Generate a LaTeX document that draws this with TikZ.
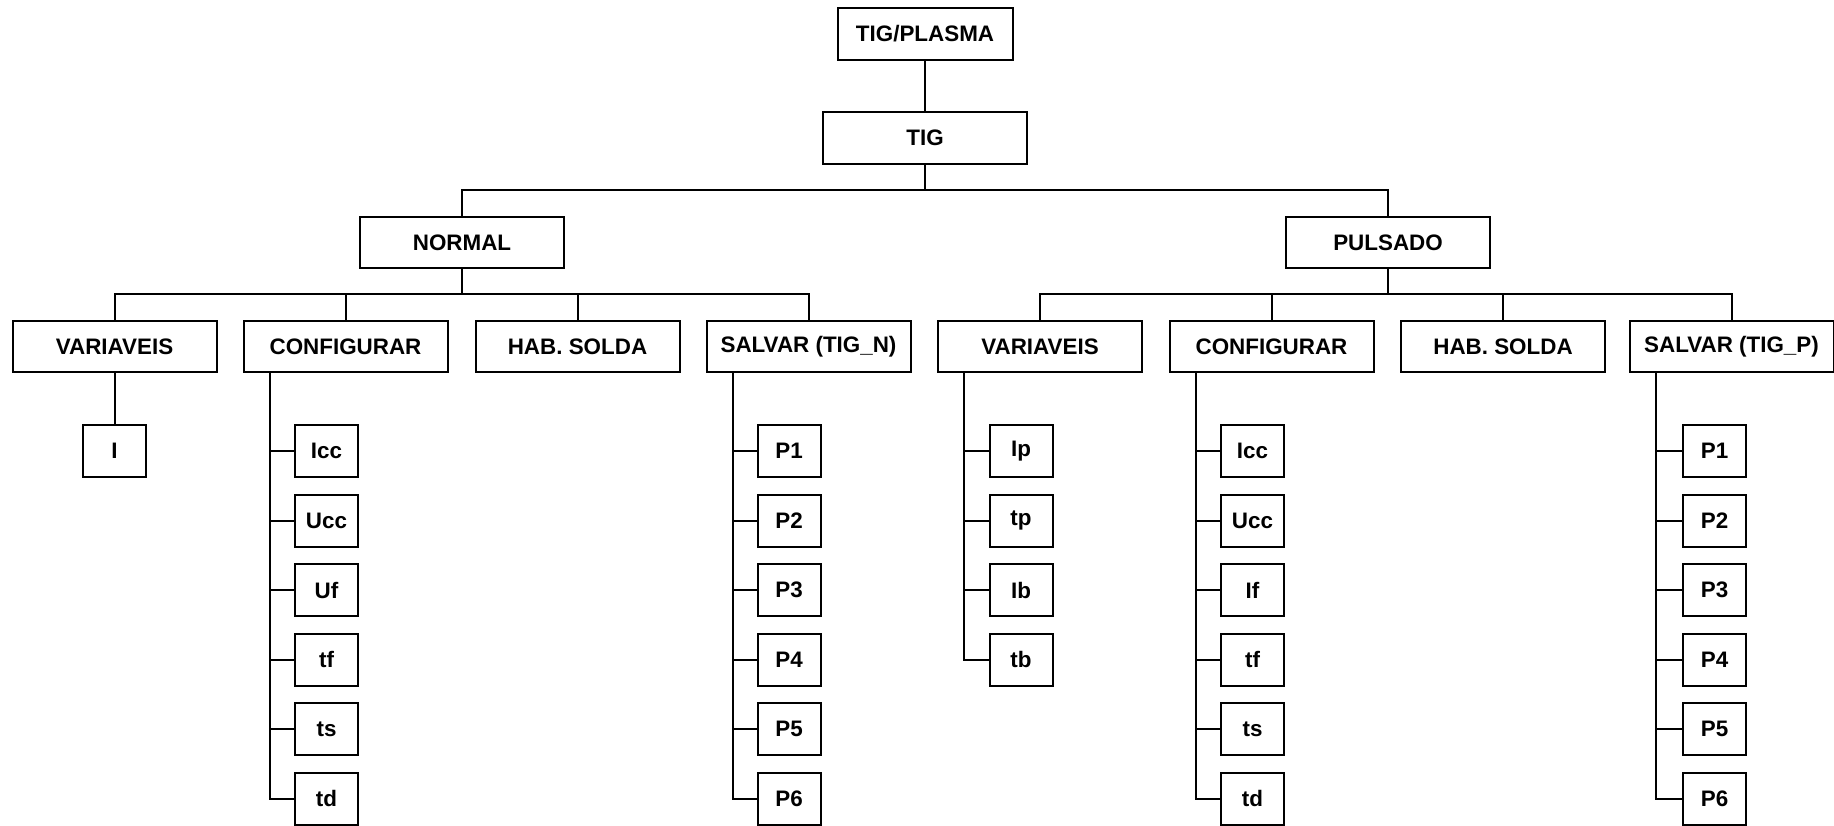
\documentclass[tikz,border=0pt]{standalone}
\usepackage{fontspec}
\setmainfont{Liberation Sans}
\begin{document}
\begin{tikzpicture}[x=0.5pt,y=-0.5pt,
  box/.style={draw,line width=1pt,inner sep=0pt,outer sep=0pt,minimum width=102pt,minimum height=25.5pt,font=\fontsize{11.2}{13}\selectfont\bfseries},
  leaf/.style={box,minimum width=31.5pt,minimum height=26pt},
  conn/.style={line width=1pt}]
\fill[white] (0,0) rectangle (1834,825);
\useasboundingbox (0,0) rectangle (1834,825);
% top
\node[box,minimum width=87.5pt,minimum height=26pt] (tp) at (925,33.5) {TIG/PLASMA};
\node[box,minimum height=26pt] (tig) at (925,138) {TIG};
\node[box] (nor) at (462,242.5) {NORMAL};
\node[box] (pul) at (1388,242.5) {PULSADO};
% level 3
\node[box] (nvar) at (114.5,346.5) {VARIAVEIS};
\node[box] (ncfg) at (345.5,346.5) {CONFIGURAR};
\node[box] (nhab) at (577.5,346.5) {HAB. SOLDA};
\node[box] (nsal) at (808.5,346.5) {SALVAR (TIG\_N)};
\node[box] (pvar) at (1040,346.5) {VARIAVEIS};
\node[box] (pcfg) at (1271.5,346.5) {CONFIGURAR};
\node[box] (phab) at (1503,346.5) {HAB. SOLDA};
\node[box] (psal) at (1731.5,346.5) {SALVAR (TIG\_P)};
% leaves
\node[leaf] (nI) at (114.5,451) {I};
\foreach \t [count=\i] in {Icc,Ucc,Uf,tf,ts,td}
  \node[leaf] (nc\i) at (326.5,381.5+69.5*\i) {\t};
\foreach \t [count=\i] in {P1,P2,P3,P4,P5,P6}
  \node[leaf] (ns\i) at (789,381.5+69.5*\i) {\t};
\foreach \t [count=\i] in {Ip,tp,Ib,tb}
  \node[leaf] (pv\i) at (1021,381.5+69.5*\i) {\t};
\foreach \t [count=\i] in {Icc,Ucc,If,tf,ts,td}
  \node[leaf] (pc\i) at (1252.5,381.5+69.5*\i) {\t};
\foreach \t [count=\i] in {P1,P2,P3,P4,P5,P6}
  \node[leaf] (ps\i) at (1714.5,381.5+69.5*\i) {\t};
% connectors
\draw[conn] (tp.south) -- (tig.north);
\draw[conn] (tig.south) -- ++(0,26);
\draw[conn] (nor.north) -- ++(0,-27) -| (pul.north);
\draw[conn] (nor.south) -- ++(0,26);
\draw[conn] (pul.south) -- ++(0,26);
\draw[conn] (nvar.north) -- ++(0,-27) -| (nsal.north);
\draw[conn] (ncfg.north) -- ++(0,-27);
\draw[conn] (nhab.north) -- ++(0,-27);
\draw[conn] (pvar.north) -- ++(0,-27) -| (psal.north);
\draw[conn] (pcfg.north) -- ++(0,-27);
\draw[conn] (phab.north) -- ++(0,-27);
\draw[conn] (nvar.south) -- (nI.north);
\foreach \i in {1,...,6} \draw[conn] ([xshift=13pt]ncfg.south west) |- (nc\i.west);
\foreach \i in {1,...,6} \draw[conn] ([xshift=13pt]nsal.south west) |- (ns\i.west);
\foreach \i in {1,...,4} \draw[conn] ([xshift=13pt]pvar.south west) |- (pv\i.west);
\foreach \i in {1,...,6} \draw[conn] ([xshift=13pt]pcfg.south west) |- (pc\i.west);
\foreach \i in {1,...,6} \draw[conn] ([xshift=13pt]psal.south west) |- (ps\i.west);
\end{tikzpicture}
\end{document}
